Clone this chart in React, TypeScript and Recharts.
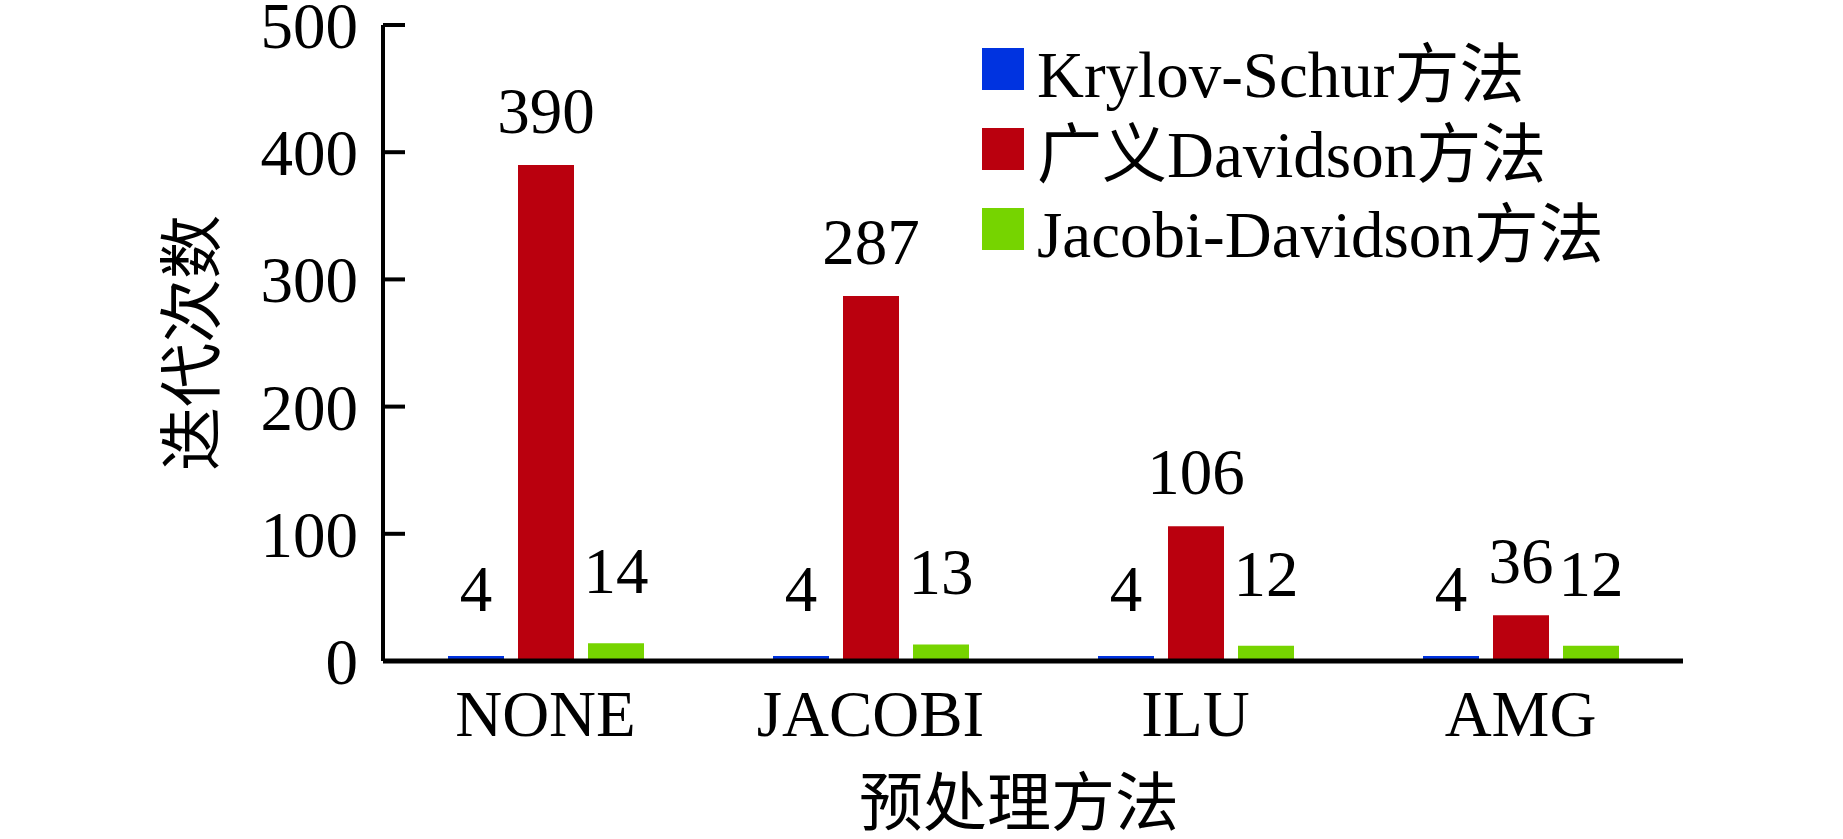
import { BarChart, Bar, XAxis, YAxis, Legend, LabelList } from "recharts";

const categories = ["NONE", "JACOBI", "ILU", "AMG"];
const seriesNames = ["Krylov-Schur方法", "广义Davidson方法", "Jacobi-Davidson方法"];
const krylovSchur = [4, 4, 4, 4];
const generalizedDavidson = [390, 287, 106, 36];
const jacobiDavidson = [14, 13, 12, 12];
const yTicks = [0, 100, 200, 300, 400, 500];

const data = categories.map((name, i) => ({
  name,
  ks: krylovSchur[i],
  gd: generalizedDavidson[i],
  jd: jacobiDavidson[i],
}));

const serif = "'Liberation Serif', 'Times New Roman', 'Noto Sans CJK SC', serif";
const cjk = "'Noto Sans CJK SC', 'Liberation Serif', sans-serif";
const labelStyle = { fontFamily: serif, fontSize: 65, fill: "#000" };

const renderLegend = (props: any) => {
  const items = [...(props.payload || [])].sort(
    (a: any, b: any) => seriesNames.indexOf(a.value) - seriesNames.indexOf(b.value)
  );
  return (
    <ul style={{ listStyle: "none", margin: 0, padding: 0 }}>
      {items.map((entry: any) => (
        <li
          key={entry.value}
          style={{
            display: "flex",
            alignItems: "center",
            height: 80,
            fontFamily: serif,
            fontSize: 65,
            color: "#000",
            whiteSpace: "nowrap",
          }}
        >
          <span
            style={{
              display: "inline-block",
              width: 42,
              height: 42,
              background: entry.color,
              marginRight: 13,
            }}
          />
          {entry.value}
        </li>
      ))}
    </ul>
  );
};

export default function App() {
  return (
    <div style={{ position: "absolute", left: 0, top: 0, background: "#fff" }}>
      <BarChart
        width={1843}
        height={839}
        data={data}
        margin={{ top: 25, right: 160, bottom: 0, left: 0 }}
        barSize={56}
        barGap={14}
      >
        <XAxis
          dataKey="name"
          height={178}
          axisLine={{ stroke: "#000", strokeWidth: 5 }}
          tickLine={false}
          tickSize={0}
          tickMargin={29}
          tick={{ fontFamily: serif, fontSize: 65, fill: "#000" }}
          label={{
            value: "预处理方法",
            position: "insideBottom",
            offset: 14,
            dx: -14,
            style: { fontFamily: cjk, fontSize: 64, fill: "#000" },
          }}
        />
        <YAxis
          width={383}
          domain={[0, 500]}
          ticks={yTicks}
          interval={0}
          axisLine={{ stroke: "#000", strokeWidth: 4 }}
          tickLine={{ stroke: "#000", strokeWidth: 4 }}
          tickSize={-22}
          tickMargin={47}
          tick={{ fontFamily: serif, fontSize: 65, fill: "#000" }}
          label={{
            value: "迭代次数",
            angle: -90,
            position: "insideLeft",
            offset: 191,
            textAnchor: "middle",
            style: { fontFamily: cjk, fontSize: 64, fill: "#000" },
          }}
        />
        <Legend
          layout="vertical"
          verticalAlign="middle"
          align="center"
          wrapperStyle={{ top: 29, left: 982, width: 700 }}
          content={renderLegend}
        />
        <Bar dataKey="ks" name={seriesNames[0]} fill="#0033E0" isAnimationActive={false}>
          <LabelList dataKey="ks" position="top" offset={45} style={labelStyle} />
        </Bar>
        <Bar dataKey="gd" name={seriesNames[1]} fill="#BA000E" isAnimationActive={false}>
          <LabelList dataKey="gd" position="top" offset={32} style={labelStyle} />
        </Bar>
        <Bar dataKey="jd" name={seriesNames[2]} fill="#76D400" isAnimationActive={false}>
          <LabelList dataKey="jd" position="top" offset={50} style={labelStyle} />
        </Bar>
      </BarChart>
    </div>
  );
}
